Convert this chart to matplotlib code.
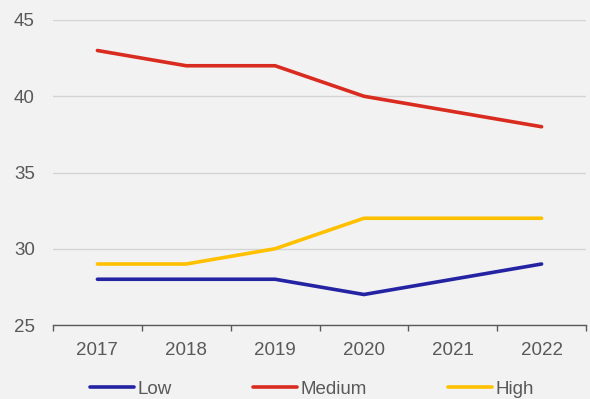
import matplotlib
matplotlib.use("Agg")
import matplotlib.pyplot as plt
import numpy as np

years = ["2017", "2018", "2019", "2020", "2021", "2022"]
low = [28, 28, 28, 27, 28, 29]
medium = [43, 42, 42, 40, 39, 38]
high = [29, 29, 30, 32, 32, 32]

plt.rcParams['font.family'] = ['Liberation Sans', 'DejaVu Sans']
bg = "#f2f2f2"
txt = "#595959"

fig = plt.figure(figsize=(5.9, 3.99), dpi=100, facecolor=bg)
ax = fig.add_axes([53/590, 1 - 325/399, (586 - 53)/590, (325 - 20)/399], facecolor=bg)

x = np.arange(len(years))
ax.plot(x, low, color="#2323a3", lw=2.6, label="Low", solid_capstyle="round")
ax.plot(x, medium, color="#d92b1f", lw=2.6, label="Medium", solid_capstyle="round")
ax.plot(x, high, color="#ffc000", lw=2.6, label="High", solid_capstyle="round")

ax.set_xlim(-0.5, len(years) - 0.5)
ax.set_ylim(25, 45)
ax.set_yticks([25, 30, 35, 40, 45])
ax.yaxis.grid(True, color="#d4d4d4", lw=1)
ax.set_axisbelow(True)

ax.set_xticks(x)
ax.set_xticklabels(years)
ax.set_xticks(np.arange(-0.5, len(years)), minor=True)
ax.tick_params(axis="x", which="major", length=0, pad=12, labelsize=13.5, labelcolor=txt)
ax.tick_params(axis="x", which="minor", length=4, width=1, color=txt, direction="out")
ax.tick_params(axis="y", length=0, pad=13, labelsize=13.5, labelcolor=txt)

for s in ["left", "right", "top"]:
    ax.spines[s].set_visible(False)
ax.spines["bottom"].set_color(txt)
ax.spines["bottom"].set_linewidth(1)

leg = fig.legend(loc="center", bbox_to_anchor=(0.5288, 1 - 389/399), ncol=3, frameon=False,
                 fontsize=13.5, handlelength=2.35, handletextpad=0.2, columnspacing=4.3,
                 labelcolor=txt)

fig.savefig("out.png", dpi=100, facecolor=bg)
